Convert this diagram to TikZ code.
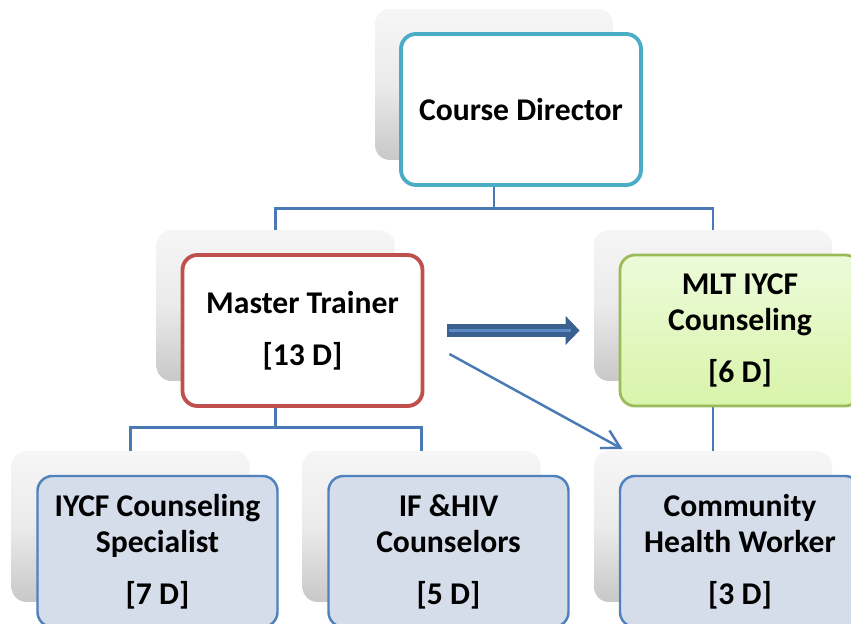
\documentclass[tikz,border=0pt]{standalone}
\usepackage{fontspec}
\setmainfont{Carlito}
\usepackage{xcolor}
\usetikzlibrary{shapes,arrows.meta,positioning}
\definecolor{linkblue}{HTML}{4A7AB5}
\definecolor{boxedge}{HTML}{4F81BD}
\definecolor{boxfill}{HTML}{D5DCEA}
\definecolor{tealedge}{HTML}{4BACC6}
\definecolor{rededge}{HTML}{C0504D}
\definecolor{greenedge}{HTML}{9BBB59}
\definecolor{greentop}{HTML}{EDFBD9}
\definecolor{greenbot}{HTML}{D8F4AA}
\definecolor{arrowdark}{HTML}{3A6190}
\definecolor{arrowlight}{HTML}{5B8BC6}
\begin{document}
\begin{tikzpicture}[back/.style = {shape=rectangle, rounded corners=0.3cm,
        minimum width=4.76cm, minimum height=3.02cm, inner sep=0pt,
        top color=gray!7, bottom color=gray!43, middle color=gray!16},
    front/.style = {shape=rectangle, rounded corners=0.3cm, minimum width=4.8cm,
        minimum height=3.02cm, align=center, xshift=0.54cm, yshift=-0.5cm,
        font=\fontsize{18}{20.5}\selectfont\bfseries},
    blue box/.style = {front, draw=boxedge, line width=1.4pt, fill=boxfill},
    link/.style = {draw=linkblue, line width=1.4pt}]
    \clip (0,0) rectangle (17.02,-12.48);
    \node [back] (cdback) at (9.88,-1.69) {};
    \node [back] (mtback) at (5.51,-6.11) {};
    \node [back] (mlback) at (14.26,-6.11) {};
    \node [back] (iyback) at (2.61,-10.53) {};
    \node [back] (ifback) at (8.43,-10.53) {};
    \node [back] (chback) at (14.26,-10.53) {};
    \draw [link] (cdback.south) -- ++(0,-0.96) -| (mtback.north);
    \draw [link] (cdback.south) -- ++(0,-0.96) -| (mlback.north);
    \draw [link] (mtback.south) -- ++(0,-0.92) -| (iyback.north);
    \draw [link] (mtback.south) -- ++(0,-0.92) -| (ifback.north);
    \draw [link] (mlback.south) -- (chback.north);
    \node [front, draw=tealedge, line width=2.2pt, fill=white] (cd) at (cdback) {Course Director};
    \node [front, draw=rededge, line width=2.2pt, fill=white] (mt) at (mtback) {Master Trainer\\[9pt][13 D]};
    \node [front, draw=greenedge, line width=1.6pt, top color=greentop, bottom color=greenbot]
        (ml) at (mlback) {MLT IYCF\\Counseling\\[9pt][6 D]};
    \node [blue box] (iy) at (iyback) {IYCF Counseling\\Specialist\\[9pt][7 D]};
    \node [blue box] (if) at (ifback) {IF \&HIV\\Counselors\\[9pt][5 D]};
    \node [blue box] (ch) at (chback) {Community\\Health Worker\\[9pt][3 D]};
    \draw [arrowdark, line width=0.26cm, -{Triangle[length=0.28cm, width=0.56cm]}]
        ([xshift=0.46cm]mt.east) -- ([xshift=-0.28cm, yshift=-0.5cm]mlback.west);
    \draw [arrowlight, line width=0.06cm] ([xshift=0.5cm]mt.east) -- ([xshift=-0.46cm, yshift=-0.5cm]mlback.west);
    \draw [link, -{Straight Barb[length=0.36cm, width=0.4cm]}]
        ([xshift=0.5cm, yshift=-0.47cm]mt.east) -- ([xshift=0.58cm, yshift=0.03cm]chback.north west);
\end{tikzpicture}
\end{document}
